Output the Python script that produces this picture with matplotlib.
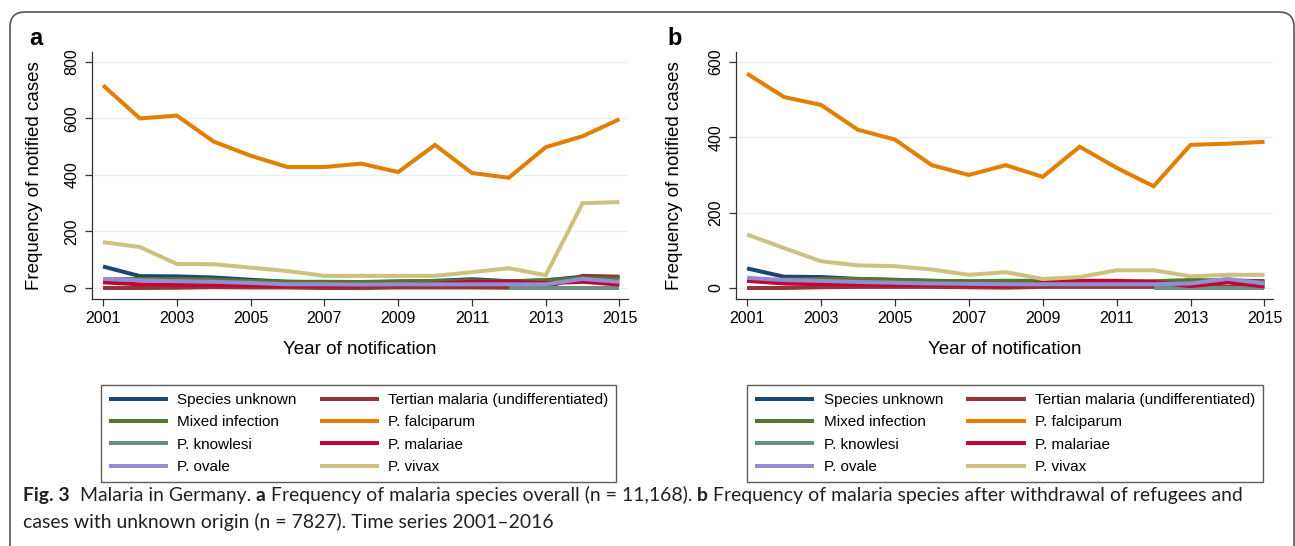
import numpy as np
import matplotlib
matplotlib.use("Agg")
import matplotlib.pyplot as plt
from matplotlib.patches import FancyBboxPatch
from matplotlib.transforms import IdentityTransform

plt.rcParams["font.family"] = ["Liberation Sans", "DejaVu Sans"]

nan = np.nan
years = list(range(2001, 2016))
species = [
    "Species unknown",
    "Tertian malaria (undifferentiated)",
    "Mixed infection",
    "P. falciparum",
    "P. knowlesi",
    "P. malariae",
    "P. ovale",
    "P. vivax",
]
colors = ["#1a476f", "#90353b", "#55752f", "#e37e00",
          "#6e8e84", "#c10534", "#938dd2", "#cac27e"]

# panel a: all cases
unknown_a = [76, 42, 41, 37, 29, 22, 20, 20, 22, 25, 31, 24, 27, 40, 38]
tertian_a = [0, 0, 1, 3, 2, 2, 0, 0, 2, 2, 2, 1, 2, 43, 40]
mixed_a = [30, 32, 32, 30, 25, 22, 22, 21, 24, 25, 27, 22, 28, 35, 32]
falciparum_a = [717, 600, 610, 518, 468, 428, 428, 440, 410, 506, 407, 390, 498, 537, 597]
knowlesi_a = [nan] * 11 + [0, 0, 0, 0]
malariae_a = [20, 13, 11, 10, 9, 8, 8, 9, 12, 15, 22, 22, 17, 22, 12]
ovale_a = [32, 27, 24, 22, 18, 13, 13, 12, 13, 13, 13, 13, 13, 32, 22]
vivax_a = [162, 145, 85, 84, 72, 60, 43, 43, 43, 43, 56, 70, 45, 300, 304]

# panel b: without refugees and unknown origin
unknown_b = [52, 30, 29, 24, 21, 19, 17, 16, 16, 16, 16, 16, 17, 20, 18]
tertian_b = [0, 0, 2, 3, 3, 3, 2, 1, 3, 3, 3, 3, 3, 3, 3]
mixed_b = [20, 22, 24, 24, 22, 19, 18, 19, 19, 17, 17, 18, 21, 20, 16]
falciparum_b = [569, 507, 486, 420, 394, 326, 300, 326, 295, 375, 319, 270, 380, 383, 388]
knowlesi_b = [nan] * 11 + [0, 0, 0, 0]
malariae_b = [19, 12, 10, 9, 8, 8, 8, 6, 13, 19, 19, 16, 5, 15, 4]
ovale_b = [27, 21, 19, 16, 14, 12, 11, 10, 10, 10, 10, 10, 12, 24, 12]
vivax_b = [142, 106, 71, 60, 58, 49, 35, 42, 24, 29, 47, 47, 31, 35, 35]

series_a = [unknown_a, tertian_a, mixed_a, falciparum_a, knowlesi_a, malariae_a, ovale_a, vivax_a]
series_b = [unknown_b, tertian_b, mixed_b, falciparum_b, knowlesi_b, malariae_b, ovale_b, vivax_b]

xticks = [2001, 2003, 2005, 2007, 2009, 2011, 2013, 2015]
yticks_a = [0, 200, 400, 600, 800]
yticks_b = [0, 200, 400, 600]

fig = plt.figure(figsize=(12.95, 5.46), dpi=100)
ax_a = fig.add_axes([0.0710, 0.4524, 0.4139, 0.4524])
ax_b = fig.add_axes([0.5683, 0.4524, 0.4147, 0.4524])


def draw_panel(ax, series, yticks, ylim, letter, label_x, letter_x):
    lines = []
    for vals, name, col in zip(series, species, colors):
        ln, = ax.plot(years, vals, color=col, lw=2.9, label=name,
                      solid_capstyle="butt", solid_joinstyle="miter")
        lines.append(ln)
    ax.set_xlim(2000.70, 2015.23)
    ax.set_ylim(*ylim)
    ax.set_xticks(xticks)
    ax.set_yticks(yticks)
    ax.set_yticklabels([str(t) for t in yticks], rotation=90, va="center")
    ax.grid(axis="y", color="#e6efef", lw=0.9)
    ax.set_axisbelow(True)
    for s in ["top", "right"]:
        ax.spines[s].set_visible(False)
    for s in ["left", "bottom"]:
        ax.spines[s].set_color("#333333")
        ax.spines[s].set_linewidth(0.9)
    ax.tick_params(direction="out", length=5, width=0.9, color="#333333",
                   labelsize=11.5, pad=4)
    ax.set_ylabel("Frequency of notified cases", fontsize=13.5)
    ax.yaxis.set_label_coords(label_x, 0.5)
    ax.set_xlabel("Year of notification", fontsize=13.5)
    ax.xaxis.set_label_coords(0.5, -0.172)
    ax.text(letter_x, 1.055, letter, transform=ax.transAxes,
            fontsize=17, fontweight="bold", ha="center", va="center")
    return lines


lines_a = draw_panel(ax_a, series_a, yticks_a, (-38.9, 835), "a", -0.092, -0.104)
lines_b = draw_panel(ax_b, series_b, yticks_b, (-29.2, 626.5), "b", -0.098, -0.114)

order = [0, 2, 4, 6, 1, 3, 5, 7]
for lines, cx in [(lines_a, 0.277), (lines_b, 0.776)]:
    leg = fig.legend([lines[i] for i in order], [species[i] for i in order],
                     loc="center", bbox_to_anchor=(cx, 0.206), ncol=2,
                     fontsize=11, frameon=True, fancybox=False,
                     handlelength=3.9, handletextpad=0.6, columnspacing=1.5,
                     labelspacing=0.55, borderpad=0.5)
    leg.get_frame().set_edgecolor("#333333")
    leg.get_frame().set_linewidth(1.0)

# outer rounded border of the figure panel
border = FancyBboxPatch((10, -40), 1284, 574,
                        boxstyle="round,pad=0,rounding_size=15",
                        transform=IdentityTransform(), fill=False,
                        edgecolor="#555555", lw=1.2, clip_on=False)
fig.add_artist(border)

# caption built from bold and regular pieces
cap_font = ["Lato", "DejaVu Sans"]
renderer = fig.canvas.get_renderer()


def text_width(txt, bold, size):
    t1 = fig.text(0, 0, "x" + txt + "x", family=cap_font, fontsize=size,
                  fontweight="bold" if bold else "normal")
    t2 = fig.text(0, 0, "xx", family=cap_font, fontsize=size,
                  fontweight="bold" if bold else "normal")
    w = t1.get_window_extent(renderer).width - t2.get_window_extent(renderer).width
    t1.remove()
    t2.remove()
    return w


def caption_line(x, y, parts, size):
    for txt, bold in parts:
        fig.text(x, y, txt, transform=IdentityTransform(), family=cap_font,
                 fontsize=size, fontweight="bold" if bold else "normal",
                 ha="left", va="baseline", color="#231f20")
        x += text_width(txt, bold, size)


line1 = [
    ("Fig. 3", True),
    ("  Malaria in Germany. ", False),
    ("a", True),
    (" Frequency of malaria species overall (n = 11,168). ", False),
    ("b", True),
    (" Frequency of malaria species after withdrawal of refugees and", False),
]
line2 = [("cases with unknown origin (n = 7827). Time series 2001\u20132016", False)]

# pick the caption size so the first line spans the panel like the original
w10 = sum(text_width(t, b, 10) for t, b in line1)
cap_size = 10 * 1215 / w10

caption_line(23, 546 - 501, line1, cap_size)
caption_line(23, 546 - 528, line2, cap_size)

fig.savefig("out.png", dpi=100)
